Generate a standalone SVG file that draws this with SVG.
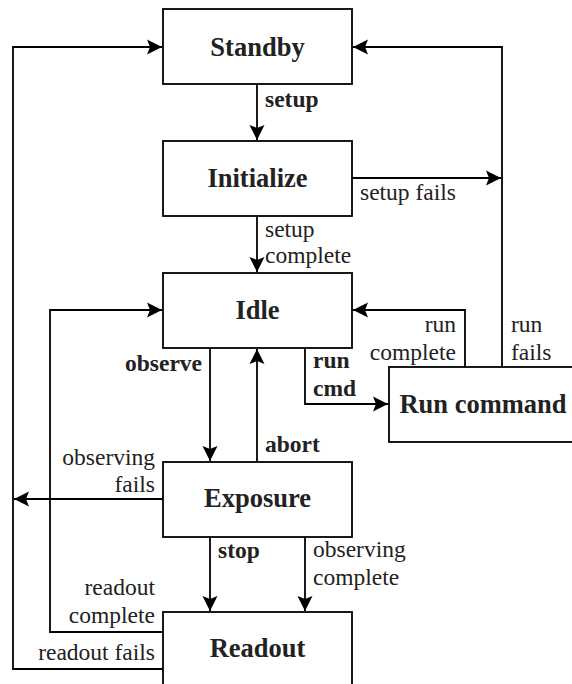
<svg xmlns="http://www.w3.org/2000/svg" width="572" height="684" viewBox="0 0 572 684">
<style>
.box{fill:#fff;stroke:#000;stroke-width:1.8}
.ntext{font-family:'Liberation Serif',serif;font-weight:bold;font-size:26.5px;fill:#222;text-anchor:middle}
.lbl{font-family:'Liberation Serif',serif;font-size:23.5px;fill:#222}
.b{font-weight:bold}
.e{text-anchor:end}
.conn{fill:none;stroke:#000;stroke-width:1.8}
</style>
<defs>
<marker id="ah" markerUnits="userSpaceOnUse" markerWidth="18" markerHeight="18" viewBox="-16 -8 18 16" refX="0" refY="0" orient="auto">
<path d="M-15,-7.5 L0,0 L-15,7.5 L-12,0 z" fill="#000"/>
</marker>
</defs>
<rect x="0" y="0" width="572" height="684" fill="#fff"/>
<g id="connectors">
<path class="conn" d="M257,84 V140" marker-end="url(#ah)"/>
<path class="conn" d="M352,178 H501" marker-end="url(#ah)"/>
<path class="conn" d="M502,367 V47 H353" marker-end="url(#ah)"/>
<path class="conn" d="M257,216 V272" marker-end="url(#ah)"/>
<path class="conn" d="M210,348 V461" marker-end="url(#ah)"/>
<path class="conn" d="M257,462 V349" marker-end="url(#ah)"/>
<path class="conn" d="M305,348 V404 H388" marker-end="url(#ah)"/>
<path class="conn" d="M465,367 V310 H353" marker-end="url(#ah)"/>
<path class="conn" d="M163,499 H14" marker-end="url(#ah)"/>
<path class="conn" d="M210,537 V611" marker-end="url(#ah)"/>
<path class="conn" d="M305,537 V611" marker-end="url(#ah)"/>
<path class="conn" d="M163,632 H50 V310 H162" marker-end="url(#ah)"/>
<path class="conn" d="M163,669 H13 V47 H162" marker-end="url(#ah)"/>
</g>
<g id="labels">
<text class="lbl b" x="265" y="107">setup</text>
<text class="lbl" x="360" y="200">setup fails</text>
<text class="lbl" x="265" y="237">setup</text>
<text class="lbl" x="265" y="263">complete</text>
<text class="lbl b e" x="202" y="371">observe</text>
<text class="lbl b" x="313" y="368">run</text>
<text class="lbl b" x="313" y="396">cmd</text>
<text class="lbl e" x="456" y="332">run</text>
<text class="lbl e" x="456" y="360">complete</text>
<text class="lbl" x="511" y="332">run</text>
<text class="lbl" x="511" y="360">fails</text>
<text class="lbl b" x="265" y="452">abort</text>
<text class="lbl e" x="155" y="465">observing</text>
<text class="lbl e" x="155" y="492">fails</text>
<text class="lbl b" x="218" y="558">stop</text>
<text class="lbl" x="313" y="557">observing</text>
<text class="lbl" x="313" y="585">complete</text>
<text class="lbl e" x="155" y="595">readout</text>
<text class="lbl e" x="155" y="623">complete</text>
<text class="lbl e" x="155" y="660">readout fails</text>
</g>
<g id="standby"><rect class="box" x="163" y="9" width="189" height="75"/><text class="ntext" x="257.5" y="55.5">Standby</text></g>
<g id="initialize"><rect class="box" x="163" y="141" width="189" height="75"/><text class="ntext" x="257.5" y="187">Initialize</text></g>
<g id="idle"><rect class="box" x="163" y="273" width="189" height="75"/><text class="ntext" x="257.5" y="318.5">Idle</text></g>
<g id="runcommand"><rect class="box" x="389" y="367" width="200" height="75"/><text class="ntext" x="483" y="413">Run command</text></g>
<g id="exposure"><rect class="box" x="163" y="462" width="189" height="75"/><text class="ntext" x="257.5" y="507">Exposure</text></g>
<g id="readout"><rect class="box" x="163" y="612" width="189" height="80"/><text class="ntext" x="257.5" y="657">Readout</text></g>
</svg>
